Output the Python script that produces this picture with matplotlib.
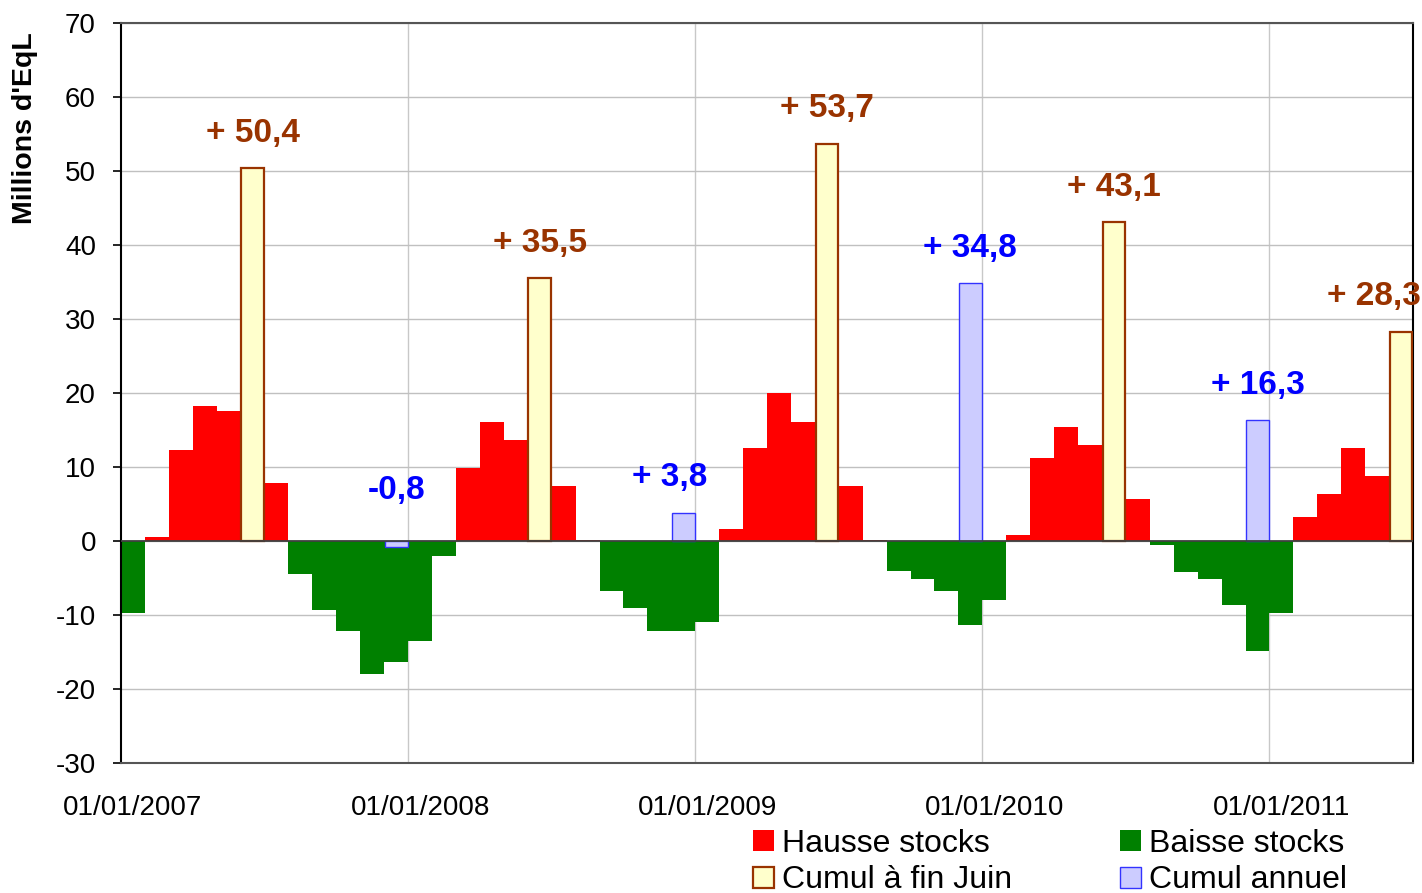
import numpy as np
import matplotlib.pyplot as plt

# --- Data (Millions d'EqL), monthly from 01/2007 to 06/2011 ---
years = [2007, 2008, 2009, 2010, 2011]
year_labels = ['01/01/2007', '01/01/2008', '01/01/2009', '01/01/2010', '01/01/2011']

# monthly variation of stocks (June hidden behind the "Cumul a fin Juin" bar)
var_2007 = [-9.7, 0.6, 12.3, 18.2, 17.6, np.nan, 7.8, -4.4, -9.3, -12.1, -18.0, -16.3]
var_2008 = [-13.5, -2.0, 9.9, 16.1, 13.6, np.nan, 7.4, 0.2, -6.8, -9.0, -12.1, -12.1]
var_2009 = [-11.0, 1.6, 12.6, 20.0, 16.1, np.nan, 7.4, 0.2, -4.1, -5.1, -6.8, -11.3]
var_2010 = [-8.0, 0.8, 11.2, 15.4, 13.0, np.nan, 5.7, -0.6, -4.2, -5.1, -8.6, -14.8]
var_2011 = [-9.7, 3.2, 6.4, 12.6, 8.8, np.nan]

cumul_juin = [50.4, 35.5, 53.7, 43.1, 28.3]
cumul_annuel = [-0.8, 3.8, 34.8, 16.3]

# --- Preparation ---
variation = np.array(var_2007 + var_2008 + var_2009 + var_2010 + var_2011)
n_months = len(variation)
x = np.arange(n_months)
hausse = np.where(variation > 0, variation, 0)
baisse = np.where(variation < 0, variation, 0)

idx_juin = np.array([12 * k + 5 for k in range(len(cumul_juin))])
idx_dec = np.array([12 * k + 11 for k in range(len(cumul_annuel))])

RED = '#FF0000'
GREEN = '#008000'
BROWN = '#993300'
BLUE = '#0000FF'

plt.rcParams['font.family'] = ['Liberation Sans', 'DejaVu Sans']
plt.rcParams['axes.unicode_minus'] = False

fig = plt.figure(figsize=(14.22, 8.93), dpi=100)
ax = fig.add_axes([121 / 1422, 130 / 893, 1292 / 1422, 740 / 893])

ax.bar(x, hausse, width=1.0, color=RED, linewidth=0, label='Hausse stocks', zorder=2)
ax.bar(x, baisse, width=1.0, color=GREEN, linewidth=0, label='Baisse stocks', zorder=2)
ax.bar(idx_juin, cumul_juin, width=0.94, color='#FFFFCC', edgecolor=BROWN,
       linewidth=1.6, label='Cumul à fin Juin', zorder=3)
ax.bar(idx_dec, cumul_annuel, width=0.97, color='#CCCCFF', edgecolor='#3333FF',
       linewidth=1.0, label='Cumul annuel', zorder=3)

# value labels (pixel nudges where the original labels were moved)
nudges = {23: (-14, 0), 53: (-27, 0), 11: (0, 16)}

def fmt(v):
    s = f'{abs(v):.1f}'.replace('.', ',')
    return f'+ {s}' if v >= 0 else f'-{s}'

for i, v in zip(idx_juin, cumul_juin):
    dx, dy = nudges.get(i, (0, 0))
    ax.annotate(fmt(v), xy=(i, max(v, 0)), xytext=(dx, 35 + dy), textcoords='offset pixels',
                ha='center', va='center', fontsize=24, fontweight='bold', color=BROWN,
                annotation_clip=False, zorder=5)
for i, v in zip(idx_dec, cumul_annuel):
    dx, dy = nudges.get(i, (0, 0))
    ax.annotate(fmt(v), xy=(i, max(v, 0)), xytext=(dx, 35 + dy), textcoords='offset pixels',
                ha='center', va='center', fontsize=24, fontweight='bold', color=BLUE,
                annotation_clip=False, zorder=5)

# axes
ax.set_xlim(-0.5, n_months - 0.5)
ax.set_ylim(-30, 70)
ax.set_yticks(np.arange(-30, 71, 10))
ax.tick_params(axis='y', labelsize=20, length=6, width=1.2, pad=12, direction='out')
ax.set_xticks([12 * k for k in range(len(years))])
ax.set_xticklabels(year_labels)
ax.tick_params(axis='x', labelsize=20, length=0, pad=23)

ax.grid(axis='y', color='#C0C0C0', linewidth=1, zorder=0)
for k in range(1, len(years)):
    ax.axvline(12 * k - 0.5, color='#C8C8C8', linewidth=1, zorder=0)
ax.set_axisbelow(True)
ax.axhline(0, color='#404040', linewidth=1.3, zorder=4)

for side in ['left', 'right']:
    ax.spines[side].set_color('black')
    ax.spines[side].set_linewidth(1.5)
for side in ['top', 'bottom']:
    ax.spines[side].set_color('#555555')
    ax.spines[side].set_linewidth(1.5)

fig.text(25 / 1422, 1 - 128 / 893, "Millions d'EqL", rotation=90, ha='center', va='center',
         fontsize=20.5, fontweight='bold')

handles, labels = ax.get_legend_handles_labels()
order = [0, 2, 1, 3]
fig.legend([handles[o] for o in order], [labels[o] for o in order], ncol=2,
           loc='upper left', bbox_to_anchor=(753 / 1422, 1 - 829 / 893), frameon=False,
           fontsize=23, handlelength=0.65, handleheight=0.65, handletextpad=0.25,
           columnspacing=3.4, labelspacing=0.2, borderpad=0, borderaxespad=0)

fig.savefig('out.png', dpi=100)
